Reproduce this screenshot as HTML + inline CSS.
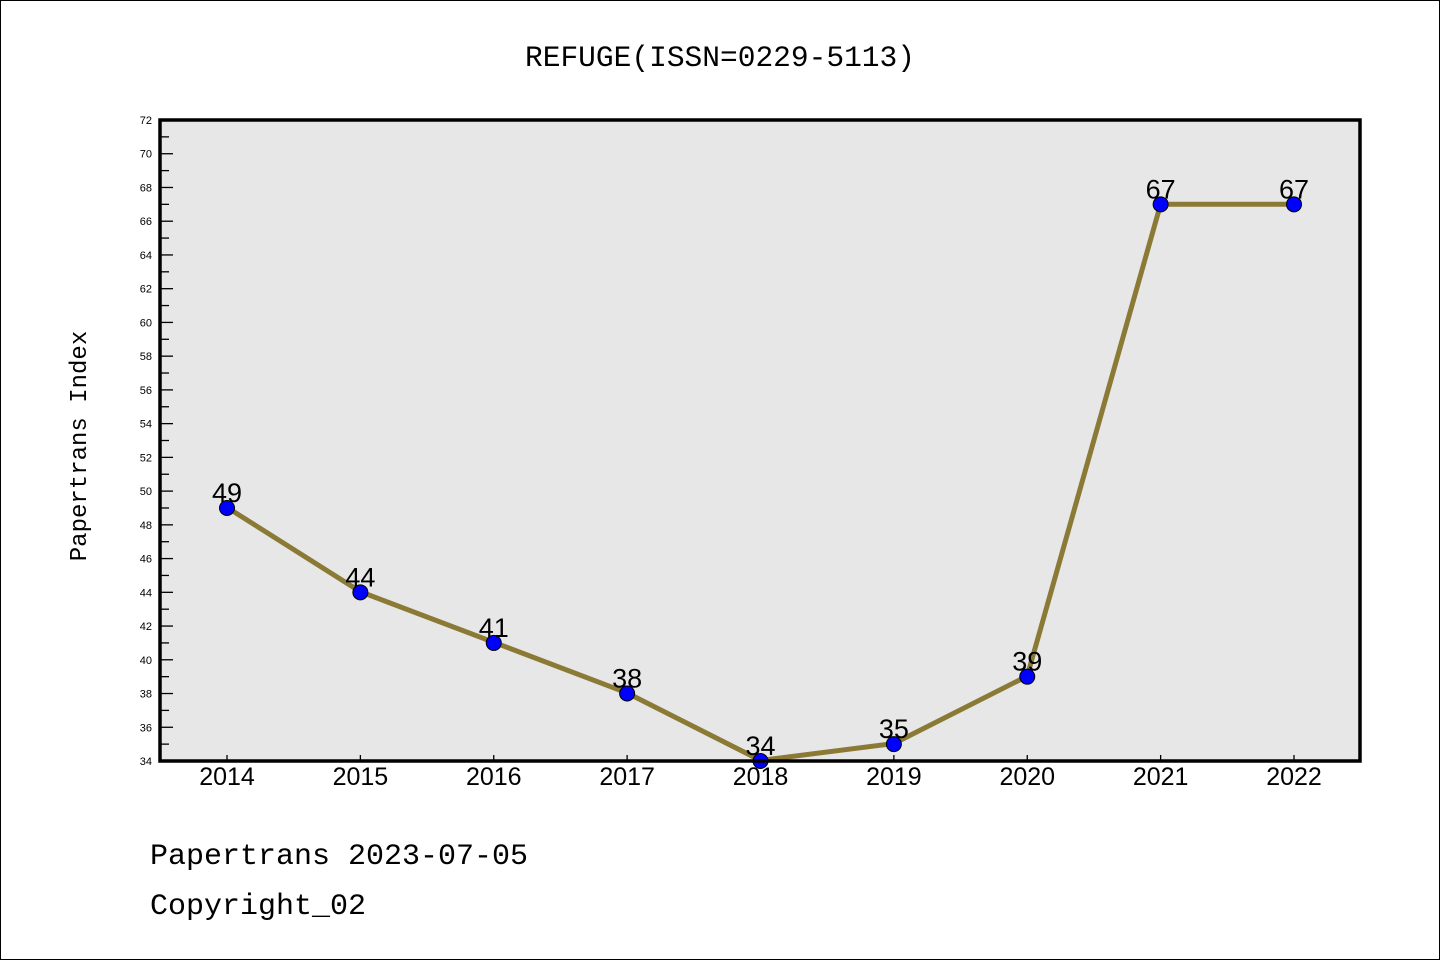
<!DOCTYPE html>
<html><head><meta charset="utf-8"><style>
html,body{margin:0;padding:0;background:#fff}
svg{display:block}
text{font-family:"Liberation Sans","DejaVu Sans",sans-serif}
.m{font-family:"Liberation Mono","DejaVu Sans Mono",monospace}
</style></head><body>
<svg width="1440" height="960" xmlns="http://www.w3.org/2000/svg">
<rect x="0.5" y="0.5" width="1439" height="959" fill="#fff" stroke="#000" stroke-width="1"/>
<text x="720" y="66" font-size="30" text-anchor="middle" class="m" textLength="390" lengthAdjust="spacingAndGlyphs">REFUGE(ISSN=0229-5113)</text>
<rect x="160" y="120" width="1200" height="641" fill="#e7e7e7"/>
<g id="ticks" stroke="#000" stroke-width="1.3"></g>
<g id="yl" font-size="11" text-anchor="end"></g>
<g id="xl" font-size="25" text-anchor="middle"></g>
<polyline points="227,507.4 360.4,591.7 493.8,642.3 627.1,692.9 760.5,760.4 893.9,743.5 1027.2,676.1 1160.6,204.2 1294,204.2" fill="none" stroke="#8b7a35" stroke-width="5" stroke-linejoin="round"/>
<g id="pts" fill="#0000ff" stroke="#000" stroke-width="1"></g>
<g id="dl" font-size="27" text-anchor="middle"></g>
<rect x="160" y="120" width="1200" height="641" fill="none" stroke="#000" stroke-width="3.5"/>
<text x="86" y="446" font-size="24" text-anchor="middle" transform="rotate(-90 86 446)" class="m">Papertrans Index</text>
<text x="150" y="864" font-size="30" class="m">Papertrans 2023-07-05</text>
<text x="150" y="914" font-size="30" class="m">Copyright_02</text>
</svg>
<script>
var ns="http://www.w3.org/2000/svg";
function el(p,t,a,txt){var e=document.createElementNS(ns,t);for(var k in a)e.setAttribute(k,a[k]);if(txt!=null)e.textContent=txt;document.getElementById(p).appendChild(e);}
function Y(v){return 761-(v-34)*(641/38);}
for(var v=34;v<=72;v++){var y=Y(v);var maj=v%2==0;
 el("ticks","line",{x1:160,x2:maj?173:169,y1:y,y2:y});
 if(maj)el("yl","text",{x:152,y:y+4},v);}
var d=[49,44,41,38,34,35,39,67,67];
for(var i=0;i<9;i++){var x=227+i*133.375;
 el("ticks","line",{x1:x,x2:x,y1:761,y2:755});
 el("xl","text",{x:x,y:785},2014+i);
 el("pts","circle",{cx:x,cy:Y(d[i]),r:7.5});
 el("dl","text",{x:x,y:Y(d[i])-6},d[i]);}
</script>
</body></html>
